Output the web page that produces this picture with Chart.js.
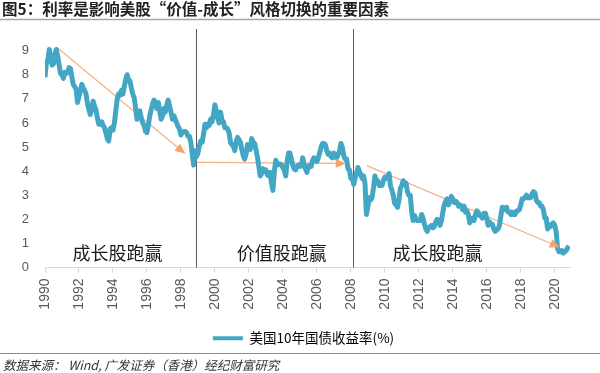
<!DOCTYPE html>
<html>
<head>
<meta charset="utf-8">
<script src="https://cdn.jsdelivr.net/npm/chart.js@4.4.1/dist/chart.umd.min.js"></script>
<style>
  html, body { margin: 0; padding: 0; background: #fff; }
  canvas { display: block; }
</style>
</head>
<body>
<canvas id="yieldChart" width="600" height="373"></canvas>
<script>
// 美国10年国债收益率 月度值, 1990-01 起
const startYear = 1990;
const yields1990s = [
  7.9, 8.5, 8.6, 9.05, 8.7, 8.4, 8.45, 8.85, 9.05, 8.75, 8.4, 8.05,
  8.0, 7.85, 8.1, 8.05, 8.1, 8.3, 8.25, 7.9, 7.6, 7.5, 7.4, 6.85,
  7.1, 7.35, 7.6, 7.45, 7.35, 7.2, 6.8, 6.55, 6.35, 6.6, 6.9, 6.7,
  6.55, 6.2, 5.95, 5.95, 6.05, 5.9, 5.8, 5.6, 5.35, 5.25, 5.75, 5.8,
  5.7, 6.0, 6.5, 7.0, 7.2, 7.15, 7.35, 7.2, 7.5, 7.8, 8.0, 7.8,
  7.75, 7.45, 7.2, 7.05, 6.6, 6.15, 6.35, 6.5, 6.2, 6.0, 5.9, 5.65,
  5.6, 5.9, 6.3, 6.55, 6.8, 6.95, 6.85, 6.6, 6.85, 6.5, 6.15, 6.3,
  6.6, 6.45, 6.75, 6.95, 6.7, 6.45, 6.15, 6.3, 6.15, 6.0, 5.85, 5.75,
  5.5, 5.6, 5.65, 5.65, 5.6, 5.45, 5.45, 5.2, 4.7, 4.25, 4.85, 4.6,
  4.75, 5.05, 5.25, 5.2, 5.55, 5.95, 5.8, 5.95, 5.9, 6.15, 6.05, 6.35
];
const yields2000s = [
  6.75, 6.5, 6.2, 6.0, 6.45, 6.1, 6.05, 5.8, 5.8, 5.75, 5.6, 5.2,
  5.1, 5.05, 4.85, 5.2, 5.4, 5.3, 5.2, 4.9, 4.65, 4.5, 4.7, 5.1,
  5.05, 4.9, 5.35, 5.2, 5.15, 4.9, 4.6, 4.2, 3.8, 3.9, 4.1, 4.0,
  4.05, 3.85, 3.8, 3.95, 3.5, 3.2, 4.0, 4.45, 4.25, 4.3, 4.3, 4.25,
  4.15, 4.05, 3.8, 4.4, 4.75, 4.75, 4.5, 4.25, 4.1, 4.05, 4.2, 4.25,
  4.2, 4.2, 4.55, 4.3, 4.1, 3.95, 4.2, 4.25, 4.2, 4.45, 4.55, 4.45,
  4.4, 4.55, 4.75, 5.0, 5.15, 5.15, 5.1, 4.85, 4.7, 4.75, 4.6, 4.55,
  4.75, 4.7, 4.55, 4.7, 4.8, 5.15, 5.0, 4.65, 4.5, 4.5, 4.1, 4.05,
  3.7, 3.75, 3.45, 3.7, 3.9, 4.15, 4.0, 3.85, 3.7, 3.8, 3.5, 2.2,
  2.5, 2.9, 2.8, 2.9, 3.3, 3.8, 3.55, 3.6, 3.4, 3.4, 3.4, 3.6
];
const yields2010s = [
  3.75, 3.7, 3.75, 3.9, 3.4, 3.2, 3.0, 2.65, 2.6, 2.5, 2.8, 3.3,
  3.4, 3.6, 3.45, 3.5, 3.15, 3.0, 3.0, 2.3, 1.95, 2.15, 2.0, 1.95,
  1.95, 1.95, 2.2, 2.05, 1.8, 1.6, 1.5, 1.65, 1.7, 1.75, 1.65, 1.7,
  1.9, 2.0, 1.95, 1.75, 1.95, 2.3, 2.6, 2.75, 2.85, 2.6, 2.75, 2.95,
  2.85, 2.7, 2.75, 2.7, 2.55, 2.6, 2.55, 2.4, 2.55, 2.3, 2.35, 2.2,
  1.85, 2.0, 2.05, 1.95, 2.2, 2.35, 2.3, 2.15, 2.15, 2.05, 2.25, 2.25,
  2.05, 1.75, 1.9, 1.8, 1.8, 1.6, 1.5, 1.55, 1.6, 1.75, 2.15, 2.5,
  2.45, 2.4, 2.5, 2.3, 2.3, 2.2, 2.3, 2.2, 2.2, 2.35, 2.35, 2.4,
  2.6, 2.85, 2.85, 2.9, 3.0, 2.9, 2.9, 2.9, 3.05, 3.15, 3.1, 2.8,
  2.7, 2.7, 2.55, 2.55, 2.4, 2.05, 2.05, 1.6, 1.7, 1.7, 1.8, 1.85
];
const yields2020 = [1.75, 1.5, 0.8, 0.65, 0.65, 0.7, 0.6, 0.65, 0.7, 0.8, 0.9];

// 刻度
const xTickYears = [1990, 1992, 1994, 1996, 1998, 2000, 2002, 2004, 2006, 2008, 2010, 2012, 2014, 2016, 2018, 2020];
const xTickLabels = ['1990', '1992', '1994', '1996', '1998', '2000', '2002', '2004', '2006', '2008', '2010', '2012', '2014', '2016', '2018', '2020'];
const yTicks = [0, 1, 2, 3, 4, 5, 6, 7, 8, 9];

// 阶段分界与趋势箭头
const regimeBreaks = [1998.88, 2008.12];
const arrowGrowth1 = [{ x: 1990.76, y: 9.1 }, { x: 1998.24, y: 4.73 }];
const arrowValue = [{ x: 1998.94, y: 4.36 }, { x: 2007.7, y: 4.32 }];
const arrowGrowth2 = [{ x: 2008.94, y: 4.23 }, { x: 2020.3, y: 0.84 }];
const regimeLabels = ['成长股跑赢', '价值股跑赢', '成长股跑赢'];
const regimeLabelYears = [1994.26, 2003.94, 2013.1];

const allYields = [...yields1990s, ...yields2000s, ...yields2010s, ...yields2020];
const yieldPoints = allYields.map((v, i) => ({ x: startYear + i / 12, y: v }));

const CJK = "'Noto Sans CJK SC', 'Liberation Sans', sans-serif";
const ARROW = '#f4b183';
const LINE = '#42a6c4';

const decor = {
  id: 'decor',
  afterLayout(chart) {
    // 图例居中于 37..570
    const lg = chart.legend;
    lg.left = 37;
  },
  beforeDatasetsDraw(chart) {
    const { ctx, chartArea: a, scales: { x } } = chart;
    ctx.save();
    ctx.strokeStyle = '#595959';
    ctx.lineWidth = 1;
    regimeBreaks.forEach(v => {
      const px = Math.round(x.getPixelForValue(v)) + 0.5;
      ctx.beginPath();
      ctx.moveTo(px, a.top);
      ctx.lineTo(px, a.bottom);
      ctx.stroke();
    });
    ctx.restore();
  },
  afterDatasetsDraw(chart) {
    const { ctx, scales: { x, y } } = chart;
    ctx.save();
    // 箭头
    [1, 2, 3].forEach(i => {
      const pts = chart.getDatasetMeta(i).data;
      const p0 = pts[0], p1 = pts[pts.length - 1];
      const ang = Math.atan2(p1.y - p0.y, p1.x - p0.x);
      const len = 10, half = 4.5;
      ctx.fillStyle = '#f3a46c';
      ctx.beginPath();
      ctx.moveTo(p1.x, p1.y);
      ctx.lineTo(p1.x - len * Math.cos(ang) + half * Math.sin(ang), p1.y - len * Math.sin(ang) - half * Math.cos(ang));
      ctx.lineTo(p1.x - len * Math.cos(ang) - half * Math.sin(ang), p1.y - len * Math.sin(ang) + half * Math.cos(ang));
      ctx.closePath();
      ctx.fill();
    });
    // 阶段文字
    ctx.fillStyle = '#1a1a1a';
    ctx.font = '18px ' + CJK;
    ctx.textAlign = 'center';
    ctx.textBaseline = 'middle';
    regimeLabels.forEach((t, i) => {
      ctx.fillText(t, x.getPixelForValue(regimeLabelYears[i]), y.getPixelForValue(0.58));
    });
    ctx.restore();
  },
  afterDraw(chart) {
    const { ctx, width, height } = chart;
    ctx.save();
    ctx.fillStyle = '#222';
    ctx.font = 'bold 15.5px ' + CJK;
    ctx.textAlign = 'left';
    ctx.textBaseline = 'middle';
    ctx.fillText('图5：利率是影响美股“价值-成长”风格切换的重要因素', 2, 9);
    ctx.strokeStyle = '#a6a6a6';
    ctx.lineWidth = 1.5;
    ctx.beginPath();
    ctx.moveTo(0, 19.5);
    ctx.lineTo(width, 19.5);
    ctx.stroke();
    ctx.strokeStyle = '#8c8c8c';
    ctx.lineWidth = 1;
    ctx.beginPath();
    ctx.moveTo(0, 353.5);
    ctx.lineTo(width, 353.5);
    ctx.stroke();
    ctx.fillStyle = '#333';
    ctx.font = 'italic 12.5px ' + CJK;
    ctx.fillText('数据来源： Wind, 广发证券（香港）经纪财富研究', 3, height - 8);
    ctx.restore();
  }
};

const arrowSet = (pts) => ({
  label: 'arrow', data: pts, borderColor: ARROW, borderWidth: 1.2,
  pointRadius: 0, fill: false
});

new Chart(document.getElementById('yieldChart'), {
  type: 'line',
  data: {
    datasets: [
      {
        label: '美国10年国债收益率(%)',
        data: yieldPoints,
        borderColor: LINE,
        backgroundColor: LINE,
        borderWidth: 5,
        pointRadius: 0,
        tension: 0,
        borderJoinStyle: 'round'
      },
      arrowSet(arrowGrowth1),
      arrowSet(arrowValue),
      arrowSet(arrowGrowth2)
    ]
  },
  options: {
    responsive: false,
    animation: false,
    layout: { padding: { left: 0, right: 30, top: 29, bottom: 18 } },
    scales: {
      x: {
        type: 'linear',
        min: 1990,
        max: 2020.9,
        afterBuildTicks: s => { s.ticks = xTickYears.map(v => ({ value: v })); },
        afterFit: s => { s.height = 54; },
        ticks: {
          callback: (v) => xTickLabels[xTickYears.indexOf(v)],
          minRotation: 90,
          maxRotation: 90,
          padding: 6,
          color: '#595959',
          font: { size: 14, family: "'Liberation Sans', Arial, sans-serif" }
        },
        grid: { drawOnChartArea: false, drawTicks: true, tickLength: 5, color: '#d9d9d9' },
        border: { color: '#d9d9d9', width: 1 }
      },
      y: {
        min: 0,
        max: 9.9,
        afterBuildTicks: s => { s.ticks = yTicks.map(v => ({ value: v })); },
        afterFit: s => { s.width = 45; },
        ticks: {
          padding: 16,
          color: '#595959',
          font: { size: 13, family: "'Liberation Sans', Arial, sans-serif" }
        },
        grid: { display: false, drawTicks: false },
        border: { display: false }
      }
    },
    plugins: {
      legend: {
        position: 'bottom',
        labels: {
          boxWidth: 30,
          boxHeight: 4,
          padding: 10,
          color: '#7f7f7f',
          font: { size: 13.5, family: CJK },
          generateLabels: (chart) => [{
            text: chart.data.datasets[0].label,
            fillStyle: LINE,
            strokeStyle: LINE,
            lineWidth: 0,
            datasetIndex: 0
          }]
        }
      },
      tooltip: { enabled: false }
    }
  },
  plugins: [decor]
});
</script>
</body>
</html>
